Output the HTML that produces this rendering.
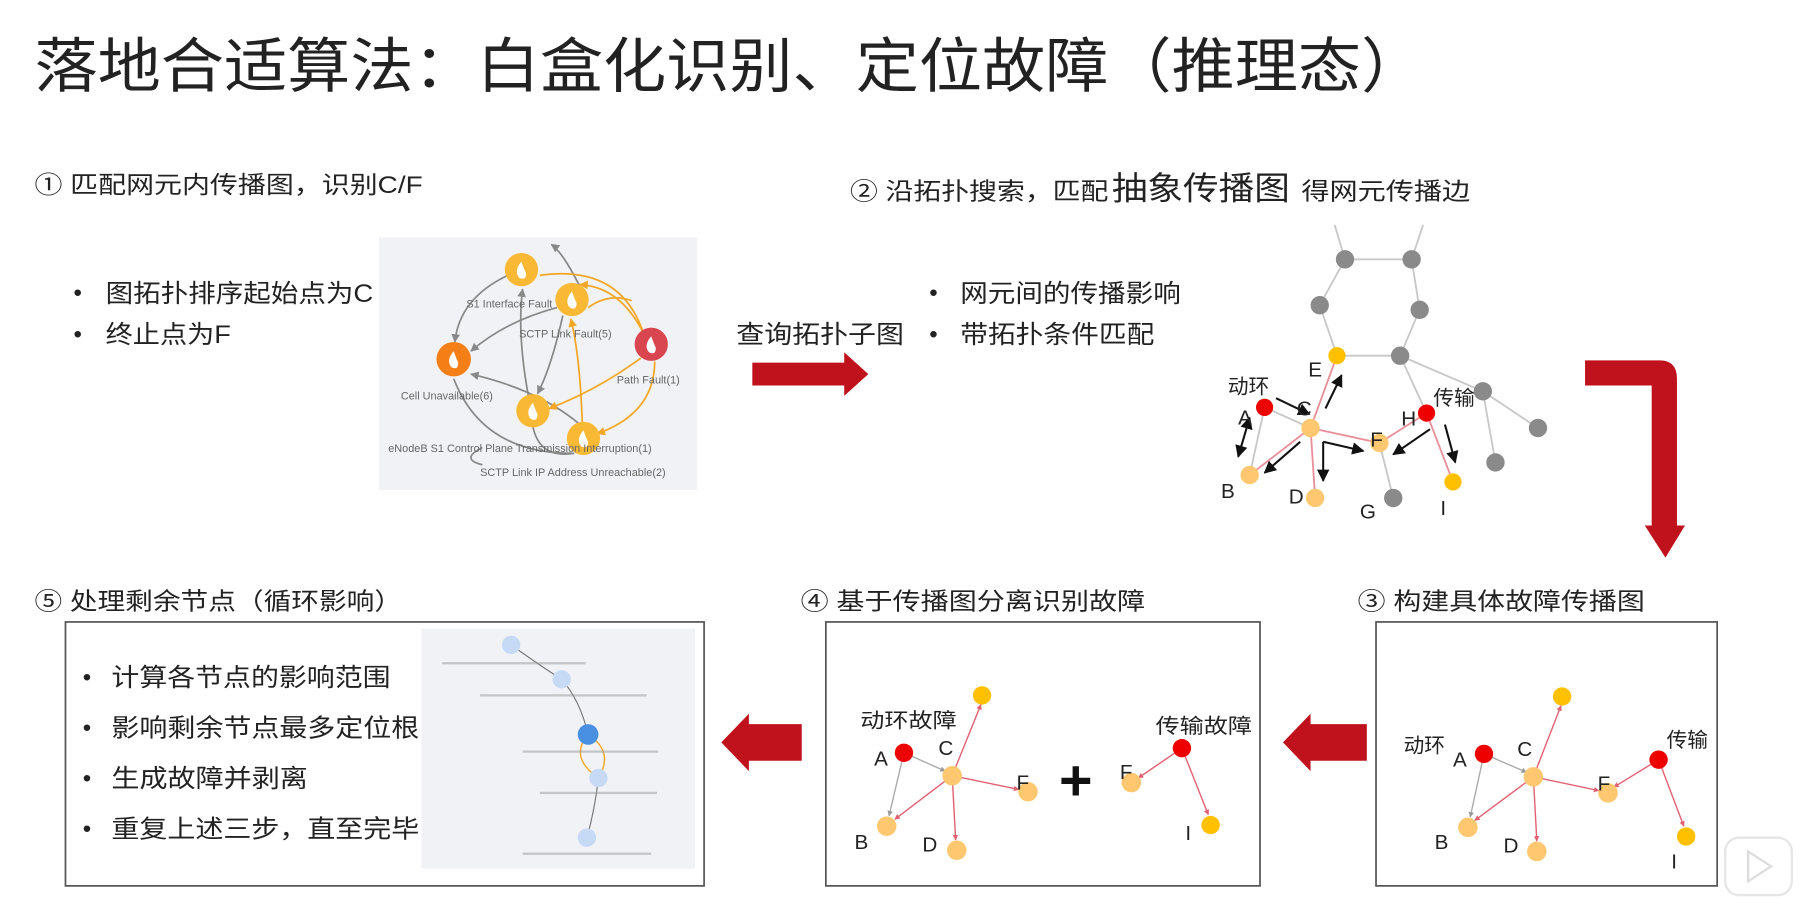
<!DOCTYPE html>
<html><head><meta charset="utf-8"><style>
html,body{margin:0;padding:0;background:#fff;}
svg{display:block}
text{font-family:"Liberation Sans","Noto Sans CJK SC",sans-serif;fill:#222}
</style></head><body>
<svg width="1801" height="918" viewBox="0 0 1568 800" preserveAspectRatio="none" xmlns="http://www.w3.org/2000/svg">
<defs>
<marker id="ab" viewBox="0 0 10 10" refX="9" refY="5" markerWidth="6" markerHeight="6" orient="auto-start-reverse"><path d="M0,0L10,5L0,10z" fill="#111"/></marker>
<marker id="ap" viewBox="0 0 10 10" refX="9" refY="5" markerWidth="4" markerHeight="4" orient="auto"><path d="M0,0L10,5L0,10z" fill="#e06070"/></marker>
<marker id="ag" viewBox="0 0 10 10" refX="9" refY="5" markerWidth="4" markerHeight="4" orient="auto"><path d="M0,0L10,5L0,10z" fill="#999"/></marker>
<marker id="gg" viewBox="0 0 10 10" refX="9" refY="5" markerWidth="5" markerHeight="5" orient="auto"><path d="M0,0L10,5L0,10z" fill="#888"/></marker>
<marker id="go" viewBox="0 0 10 10" refX="9" refY="5" markerWidth="5" markerHeight="5" orient="auto"><path d="M0,0L10,5L0,10z" fill="#f5a623"/></marker>
</defs>

<text x="30" y="76" font-size="52" textLength="1210" lengthAdjust="spacingAndGlyphs">落地合适算法：白盒化识别、定位故障（推理态）</text>

<text x="30" y="168" font-size="21" textLength="338" lengthAdjust="spacingAndGlyphs">① 匹配网元内传播图，识别C/F</text>
<text x="64" y="262" font-size="21">•</text>
<text x="92" y="263" font-size="22" textLength="233" lengthAdjust="spacingAndGlyphs">图拓扑排序起始点为C</text>
<text x="64" y="298" font-size="21">•</text>
<text x="92" y="299" font-size="22" textLength="109" lengthAdjust="spacingAndGlyphs">终止点为F</text>

<!-- graph panel 1 -->
<rect x="330" y="207" width="277" height="220" fill="#f1f2f6"/>
<g fill="none" stroke="#888" stroke-width="1.5">
<path d="M442,240 Q400,260 396,298" marker-end="url(#gg)"/>
<path d="M485,268 Q440,280 410,306" marker-end="url(#gg)"/>
<path d="M490,275 Q480,320 468,343" marker-end="url(#gg)"/>
<path d="M460,345 Q450,290 455,252" marker-end="url(#gg)"/>
<path d="M505,370 Q470,340 410,326" marker-end="url(#gg)"/>
<path d="M498,395 Q420,395 395,330"/>
<path d="M464,372 Q470,400 500,395"/>
<path d="M505,250 Q490,220 480,213" marker-end="url(#gg)"/>
<path d="M420,390 Q400,400 420,405"/>
</g>
<g fill="none" stroke="#f5a623" stroke-width="1.5">
<path d="M560,290 Q540,250 505,248" marker-end="url(#go)"/>
<path d="M470,240 Q540,230 560,290"/>
<path d="M558,312 Q520,340 478,356" marker-end="url(#go)"/>
<path d="M570,315 Q570,360 520,378" marker-end="url(#go)"/>
<path d="M507,370 Q505,310 497,278" marker-end="url(#go)"/>
<path d="M512,268 Q530,255 550,262"/>
</g>
<g>
<circle cx="454" cy="235" r="14.5" fill="#f9b934"/>
<circle cx="498" cy="261" r="14.5" fill="#f9b934"/>
<circle cx="567" cy="300" r="14.5" fill="#d9464f"/>
<circle cx="395" cy="313" r="15" fill="#f57f17"/>
<circle cx="464" cy="358" r="14.5" fill="#f9b934"/>
<circle cx="508" cy="382" r="14.5" fill="#f9b934"/>
</g>
<g fill="#fff">
<path d="M454,228 q-7,8 -2,14 q6,3 6,-4 q-2,-4 -4,-10z"/>
<path d="M498,254 q-7,8 -2,14 q6,3 6,-4 q-2,-4 -4,-10z"/>
<path d="M567,293 q-7,8 -2,14 q6,3 6,-4 q-2,-4 -4,-10z"/>
<path d="M395,306 q-7,8 -2,14 q6,3 6,-4 q-2,-4 -4,-10z"/>
<path d="M464,351 q-7,8 -2,14 q6,3 6,-4 q-2,-4 -4,-10z"/>
<path d="M508,375 q-7,8 -2,14 q6,3 6,-4 q-2,-4 -4,-10z"/>
</g>
<g font-size="9.5">
<text x="406" y="268" style="fill:#666">S1 Interface Fault</text>
<text x="452" y="294" style="fill:#666">SCTP Link Fault(5)</text>
<text x="537" y="334" style="fill:#666">Path Fault(1)</text>
<text x="349" y="348" style="fill:#666">Cell Unavailable(6)</text>
<text x="338" y="394" style="fill:#666">eNodeB S1 Control Plane Transmission Interruption(1)</text>
<text x="418" y="415" style="fill:#666">SCTP Link IP Address Unreachable(2)</text>
</g>

<!-- section 2 -->
<text x="740" y="174" font-size="21" textLength="225" lengthAdjust="spacingAndGlyphs">② 沿拓扑搜索，匹配</text>
<text x="968" y="174" font-size="28" textLength="155" lengthAdjust="spacingAndGlyphs">抽象传播图</text>
<text x="1133" y="174" font-size="21" textLength="147" lengthAdjust="spacingAndGlyphs">得网元传播边</text>
<text x="641" y="299" font-size="22" textLength="146" lengthAdjust="spacingAndGlyphs">查询拓扑子图</text>
<text x="809" y="262" font-size="21">•</text>
<text x="836" y="263" font-size="22" textLength="192" lengthAdjust="spacingAndGlyphs">网元间的传播影响</text>
<text x="809" y="298" font-size="21">•</text>
<text x="836" y="299" font-size="22" textLength="169" lengthAdjust="spacingAndGlyphs">带拓扑条件匹配</text>
<path d="M655,316 H735 V307 L756,326 L735,345 V336 H655 Z" fill="#c0121c"/>

<!-- topology graph -->
<g stroke="#c8c8c8" stroke-width="1.6" fill="none">
<line x1="1171" y1="226" x2="1162" y2="196"/><line x1="1229" y1="226" x2="1239" y2="196"/>
<line x1="1171" y1="226" x2="1229" y2="226"/><line x1="1171" y1="226" x2="1149" y2="266"/>
<line x1="1149" y1="266" x2="1164" y2="310"/><line x1="1229" y1="226" x2="1236" y2="270"/>
<line x1="1236" y1="270" x2="1219" y2="310"/><line x1="1164" y1="310" x2="1219" y2="310"/>
<line x1="1219" y1="310" x2="1291" y2="341"/><line x1="1291" y1="341" x2="1339" y2="373"/>
<line x1="1291" y1="341" x2="1302" y2="403"/><line x1="1219" y1="310" x2="1242" y2="360"/>
<line x1="1101" y1="355" x2="1141" y2="373"/><line x1="1101" y1="355" x2="1088" y2="414"/>
<line x1="1201" y1="386" x2="1213" y2="434"/>
</g>
<g stroke="#e8909a" stroke-width="1.6">
<line x1="1141" y1="373" x2="1164" y2="310"/><line x1="1141" y1="373" x2="1088" y2="414"/>
<line x1="1141" y1="373" x2="1145" y2="434"/><line x1="1141" y1="373" x2="1201" y2="386"/>
<line x1="1242" y1="360" x2="1201" y2="386"/><line x1="1242" y1="360" x2="1265" y2="420"/>
</g>
<g stroke="#111" stroke-width="1.8" marker-end="url(#ab)">
<line x1="1111" y1="347" x2="1140" y2="361"/>
<line x1="1088" y1="364" x2="1078" y2="398" marker-start="url(#ab)"/>
<line x1="1154" y1="356" x2="1168" y2="327"/>
<line x1="1132" y1="385" x2="1101" y2="412"/>
<line x1="1152" y1="385" x2="1152" y2="419"/>
<line x1="1152" y1="385" x2="1187" y2="393"/>
<line x1="1245" y1="374" x2="1213" y2="396"/>
<line x1="1258" y1="370" x2="1267" y2="403"/>
</g>
<g fill="#8a8a8a">
<circle cx="1171" cy="226" r="8"/><circle cx="1229" cy="226" r="8"/><circle cx="1149" cy="266" r="8"/>
<circle cx="1236" cy="270" r="8"/><circle cx="1219" cy="310" r="8"/><circle cx="1291" cy="341" r="8"/>
<circle cx="1339" cy="373" r="8"/><circle cx="1302" cy="403" r="8"/><circle cx="1213" cy="434" r="8"/>
</g>
<circle cx="1164" cy="310" r="7.5" fill="#ffc000"/>
<circle cx="1265" cy="420" r="7.5" fill="#ffc000"/>
<circle cx="1101" cy="355" r="7.5" fill="#ee0000"/>
<circle cx="1242" cy="360" r="7.5" fill="#ee0000"/>
<g fill="#ffc870"><circle cx="1141" cy="373" r="8"/><circle cx="1201" cy="386" r="8"/><circle cx="1088" cy="414" r="8"/><circle cx="1145" cy="434" r="8"/></g>
<g font-size="18">
<text x="1139" y="328">E</text><text x="1069" y="343">动环</text><text x="1078" y="370">A</text>
<text x="1129" y="362">C</text><text x="1193" y="389">F</text><text x="1220" y="371">H</text>
<text x="1248" y="353">传输</text><text x="1063" y="434">B</text><text x="1122" y="439">D</text>
<text x="1184" y="452">G</text><text x="1254" y="449">I</text>
</g>

<!-- bent arrow -->
<path d="M1380,314 H1445 Q1460,314 1460,330 V458 H1467 L1450,486 L1432,458 H1438 V336 H1380 Z" fill="#c0121c"/>

<!-- bottom headers -->
<text x="30" y="531" font-size="21" textLength="320" lengthAdjust="spacingAndGlyphs">⑤ 处理剩余节点（循环影响）</text>
<text x="697" y="531" font-size="21" textLength="300" lengthAdjust="spacingAndGlyphs">④ 基于传播图分离识别故障</text>
<text x="1182" y="531" font-size="21" textLength="250" lengthAdjust="spacingAndGlyphs">③ 构建具体故障传播图</text>

<!-- box 5 -->
<rect x="57" y="542" width="556" height="230" fill="#fff" stroke="#555" stroke-width="1.5"/>
<rect x="367" y="548" width="238" height="209" fill="#f1f2f6"/>
<path d="M445,562 Q470,580 489,592 Q505,610 512,640" stroke="#777" fill="none" stroke-width="1"/>
<path d="M512,640 Q495,660 521,678" stroke="#f5a623" fill="none" stroke-width="1.2"/>
<path d="M512,640 Q535,655 521,678" stroke="#f5a623" fill="none" stroke-width="1.2"/>
<path d="M521,678 Q518,705 511,730" stroke="#777" fill="none" stroke-width="1"/>
<g fill="#c6daf5"><circle cx="445" cy="562" r="8"/><circle cx="489" cy="592" r="8"/><circle cx="521" cy="678" r="8"/><circle cx="511" cy="730" r="8"/></g>
<circle cx="512" cy="640" r="9" fill="#4a90e2"/>
<g fill="#999" opacity="0.5">
<rect x="385" y="577" width="125" height="2"/><rect x="418" y="605" width="145" height="2"/>
<rect x="455" y="654" width="118" height="2"/><rect x="470" y="690" width="102" height="2"/>
<rect x="455" y="743" width="112" height="2"/>
</g>
<text x="72" y="597" font-size="21">•</text>
<text x="97" y="598" font-size="22" textLength="243" lengthAdjust="spacingAndGlyphs">计算各节点的影响范围</text>
<text x="72" y="641" font-size="21">•</text>
<text x="97" y="642" font-size="22" textLength="268" lengthAdjust="spacingAndGlyphs">影响剩余节点最多定位根</text>
<text x="72" y="685" font-size="21">•</text>
<text x="97" y="686" font-size="22" textLength="171" lengthAdjust="spacingAndGlyphs">生成故障并剥离</text>
<text x="72" y="729" font-size="21">•</text>
<text x="97" y="730" font-size="22" textLength="268" lengthAdjust="spacingAndGlyphs">重复上述三步，直至完毕</text>

<path d="M698,631 H652 V622 L628,647 L652,672 V663 H698 Z" fill="#c0121c"/>

<!-- box 4 -->
<rect x="719" y="542" width="378" height="230" fill="#fff" stroke="#555" stroke-width="1.5"/>
<g stroke-width="1.2" fill="none">
<line x1="829" y1="676" x2="854" y2="614" stroke="#e06070" marker-end="url(#ap)"/>
<line x1="787" y1="656" x2="823" y2="672" stroke="#aaa" marker-end="url(#ag)"/>
<line x1="787" y1="656" x2="774" y2="711" stroke="#aaa" marker-end="url(#ag)"/>
<line x1="829" y1="676" x2="779" y2="714" stroke="#e06070" marker-end="url(#ap)"/>
<line x1="829" y1="676" x2="832" y2="732" stroke="#e06070" marker-end="url(#ap)"/>
<line x1="829" y1="676" x2="887" y2="688" stroke="#e06070" marker-end="url(#ap)"/>
<line x1="1029" y1="652" x2="991" y2="678" stroke="#e06070" marker-end="url(#ap)"/>
<line x1="1029" y1="652" x2="1052" y2="710" stroke="#e06070" marker-end="url(#ap)"/>
</g>
<circle cx="855" cy="606" r="8" fill="#ffc000"/>
<circle cx="787" cy="656" r="8" fill="#ee0000"/>
<circle cx="1029" cy="652" r="8" fill="#ee0000"/>
<circle cx="1054" cy="719" r="8" fill="#ffc000"/>
<g fill="#ffc870"><circle cx="829" cy="676" r="8.5"/><circle cx="895" cy="690" r="8.5"/><circle cx="772" cy="720" r="8.5"/><circle cx="833" cy="741" r="8.5"/><circle cx="985" cy="682" r="8.5"/></g>
<g font-size="18">
<text x="749" y="634" textLength="84" lengthAdjust="spacingAndGlyphs">动环故障</text><text x="761" y="667">A</text><text x="817" y="658">C</text>
<text x="885" y="688">F</text><text x="744" y="740">B</text><text x="803" y="742">D</text>
<text x="1006" y="639" textLength="84" lengthAdjust="spacingAndGlyphs">传输故障</text><text x="975" y="679">F</text><text x="1032" y="732">I</text>
</g>
<text x="922" y="697" font-size="50" font-weight="bold" style="fill:#111">+</text>

<path d="M1190,631 H1141 V622 L1117,647 L1141,672 V663 H1190 Z" fill="#c0121c"/>

<!-- box 3 -->
<rect x="1198" y="542" width="297" height="230" fill="#fff" stroke="#555" stroke-width="1.5"/>
<g stroke-width="1.2" fill="none">
<line x1="1335" y1="677" x2="1359" y2="615" stroke="#e06070" marker-end="url(#ap)"/>
<line x1="1292" y1="657" x2="1329" y2="673" stroke="#aaa" marker-end="url(#ag)"/>
<line x1="1292" y1="657" x2="1280" y2="712" stroke="#aaa" marker-end="url(#ag)"/>
<line x1="1335" y1="677" x2="1284" y2="715" stroke="#e06070" marker-end="url(#ap)"/>
<line x1="1335" y1="677" x2="1338" y2="733" stroke="#e06070" marker-end="url(#ap)"/>
<line x1="1335" y1="677" x2="1392" y2="689" stroke="#e06070" marker-end="url(#ap)"/>
<line x1="1444" y1="662" x2="1405" y2="686" stroke="#e06070" marker-end="url(#ap)"/>
<line x1="1444" y1="662" x2="1466" y2="720" stroke="#e06070" marker-end="url(#ap)"/>
</g>
<circle cx="1360" cy="607" r="8" fill="#ffc000"/>
<circle cx="1292" cy="657" r="8" fill="#ee0000"/>
<circle cx="1444" cy="662" r="8" fill="#ee0000"/>
<circle cx="1468" cy="729" r="8" fill="#ffc000"/>
<g fill="#ffc870"><circle cx="1335" cy="677" r="8.5"/><circle cx="1400" cy="691" r="8.5"/><circle cx="1278" cy="721" r="8.5"/><circle cx="1338" cy="742" r="8.5"/></g>
<g font-size="18">
<text x="1222" y="656">动环</text><text x="1265" y="668">A</text><text x="1321" y="659">C</text>
<text x="1391" y="689">F</text><text x="1451" y="651">传输</text><text x="1249" y="740">B</text>
<text x="1309" y="743">D</text><text x="1455" y="757">I</text>
</g>

<!-- play icon -->
<rect x="1502" y="730" width="58" height="50" rx="12" fill="#fff" stroke="#e6e6e6" stroke-width="2"/>
<path d="M1522,742 L1542,755 L1522,768 Z" fill="none" stroke="#ddd" stroke-width="2"/>
</svg>
</body></html>
